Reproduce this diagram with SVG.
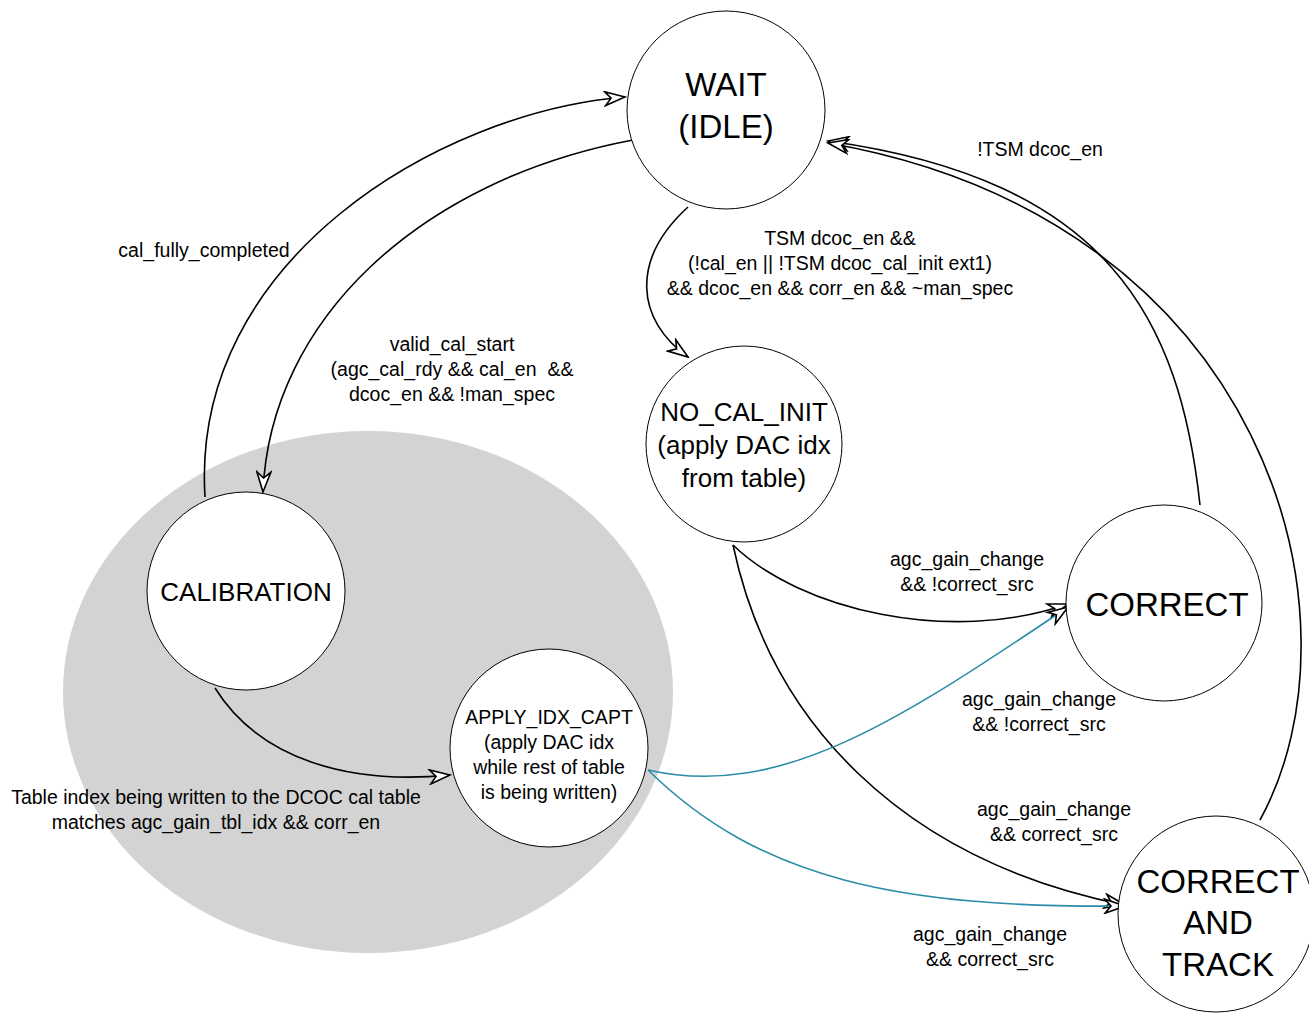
<svg xmlns="http://www.w3.org/2000/svg" width="1309" height="1013" viewBox="0 0 1309 1013">
<style>
.st{fill:#fff;stroke:#000;stroke-width:1}
.e{fill:none;stroke:#000;stroke-width:1.6}
.t{fill:none;stroke:#2a8ca8;stroke-width:1.6}
text{font-family:"Liberation Sans",Arial,sans-serif;text-anchor:middle;dominant-baseline:central;fill:#000}
.l{font-size:19.5px}
.big{font-size:33px}
</style>
<defs>
<marker id="a" markerWidth="24" markerHeight="16" viewBox="-22 -8 24 16" refX="0" refY="0" orient="auto" markerUnits="userSpaceOnUse">
<path d="M0,0 L-20,-7 L-14,0 L-20,7 Z" fill="#fff" stroke="#000" stroke-width="1.6" stroke-linejoin="miter"/>
</marker>
</defs>
<ellipse cx="368" cy="692" rx="305" ry="261" fill="#d3d3d3"/>
<g id="edges">
<path class="e" d="M205,497 C190,260 440,112 625,97" marker-end="url(#a)"/>
<path class="e" d="M633,140 C420,180 270,320 263,492" marker-end="url(#a)"/>
<path class="e" d="M688,207 C630,260 636,320 688,357" marker-end="url(#a)"/>
<path class="e" d="M1200,505 C1180,320 1110,180 828,141" marker-end="url(#a)"/>
<path class="e" d="M1260,820 C1370,620 1270,220 828,143" marker-end="url(#a)"/>
<path class="e" d="M733,545 C800,610 950,645 1068,604" marker-end="url(#a)"/>
<path class="e" d="M733,545 C770,720 900,860 1125,905" marker-end="url(#a)"/>
<path class="e" d="M215,688 C260,760 350,785 450,775" marker-end="url(#a)"/>
<path class="t" d="M648,770 C780,800 900,720 1068,607" marker-end="url(#a)"/>
<path class="t" d="M648,770 C760,880 900,908 1125,906" marker-end="url(#a)"/>
</g>
<g id="wait"><circle class="st" cx="726" cy="110" r="99"/><text class="big" x="726" y="84">WAIT</text><text class="big" x="726" y="126">(IDLE)</text></g>
<g id="nocal"><circle class="st" cx="744" cy="444" r="98"/><text x="744" y="412" font-size="26">NO_CAL_INIT</text><text x="744" y="445" font-size="26">(apply DAC idx</text><text x="744" y="478" font-size="26">from table)</text></g>
<g id="correct"><circle class="st" cx="1164" cy="603" r="98"/><text class="big" x="1167" y="604">CORRECT</text></g>
<g id="cat"><circle class="st" cx="1216" cy="914" r="98"/><text class="big" x="1218" y="881">CORRECT</text><text class="big" x="1218" y="922">AND</text><text class="big" x="1218" y="964">TRACK</text></g>
<g id="calib"><circle class="st" cx="246" cy="591" r="99"/><text x="246" y="592" font-size="26">CALIBRATION</text></g>
<g id="apply"><circle class="st" cx="549" cy="748" r="99"/><text class="l" x="549" y="717">APPLY_IDX_CAPT</text><text class="l" x="549" y="742">(apply DAC idx</text><text class="l" x="549" y="767">while rest of table</text><text class="l" x="549" y="792">is being written)</text></g>
<g id="labels">
<text class="l" x="204" y="250">cal_fully_completed</text>
<text class="l" x="840" y="238">TSM dcoc_en &amp;&amp;</text>
<text class="l" x="840" y="263">(!cal_en || !TSM dcoc_cal_init ext1)</text>
<text class="l" x="840" y="288">&amp;&amp; dcoc_en &amp;&amp; corr_en &amp;&amp; ~man_spec</text>
<text class="l" x="452" y="344">valid_cal_start</text>
<text class="l" x="452" y="369" xml:space="preserve">(agc_cal_rdy &amp;&amp; cal_en  &amp;&amp;</text>
<text class="l" x="452" y="394">dcoc_en &amp;&amp; !man_spec</text>
<text class="l" x="1040" y="149">!TSM dcoc_en</text>
<text class="l" x="967" y="559">agc_gain_change</text>
<text class="l" x="967" y="584">&amp;&amp; !correct_src</text>
<text class="l" x="1039" y="699">agc_gain_change</text>
<text class="l" x="1039" y="724">&amp;&amp; !correct_src</text>
<text class="l" x="1054" y="809">agc_gain_change</text>
<text class="l" x="1054" y="834">&amp;&amp; correct_src</text>
<text class="l" x="990" y="934">agc_gain_change</text>
<text class="l" x="990" y="959">&amp;&amp; correct_src</text>
<text class="l" x="216" y="797">Table index being written to the DCOC cal table</text>
<text class="l" x="216" y="822">matches agc_gain_tbl_idx &amp;&amp; corr_en</text>
</g>
</svg>
